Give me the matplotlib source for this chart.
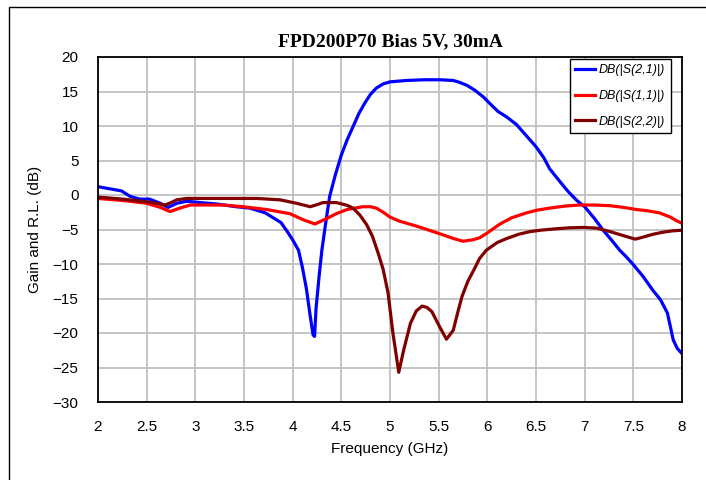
import matplotlib
matplotlib.use("Agg")
import matplotlib.pyplot as plt
from matplotlib.patches import Rectangle

# S21 gain (blue)
s21_freq = [2.0, 2.12, 2.24, 2.33, 2.43, 2.53, 2.64, 2.72, 2.81, 2.91, 3.05, 3.22, 3.42, 3.56,
            3.63, 3.72, 3.80, 3.88, 3.94, 4.0, 4.06, 4.1, 4.14, 4.18, 4.21, 4.225, 4.24, 4.27,
            4.30, 4.34, 4.38, 4.44, 4.50, 4.56, 4.62, 4.68, 4.74, 4.80, 4.86, 4.93, 5.0, 5.17,
            5.35, 5.51, 5.65, 5.72, 5.79, 5.87, 5.96, 6.03, 6.11, 6.2, 6.3, 6.4, 6.5, 6.58,
            6.64, 6.72, 6.8, 6.85, 6.92, 7.0, 7.1, 7.19, 7.28, 7.36, 7.43, 7.5, 7.6, 7.7,
            7.78, 7.85, 7.91, 7.95, 8.0]
s21_db = [1.2, 0.9, 0.6, -0.2, -0.6, -0.6, -1.2, -1.8, -1.2, -0.9, -1.1, -1.3, -1.7, -1.9,
          -2.2, -2.6, -3.3, -4.0, -5.2, -6.5, -8.0, -10.5, -13.5, -17.5, -20.3, -20.5, -16.5, -12.0,
          -8.0, -4.0, -0.2, 3.0, 5.8, 8.0, 9.9, 11.8, 13.3, 14.6, 15.5, 16.1, 16.4, 16.6,
          16.7, 16.7, 16.6, 16.3, 15.9, 15.2, 14.2, 13.2, 12.1, 11.3, 10.2, 8.6, 7.0, 5.4,
          3.8, 2.4, 1.0, 0.2, -0.8, -1.7, -3.4, -5.1, -6.6, -8.0, -9.0, -10.1, -11.8, -13.8,
          -15.2, -17.1, -21.0, -22.2, -23.0]

# S11 input return loss (red)
s11_freq = [2.0, 2.26, 2.5, 2.64, 2.74, 2.84, 2.95, 3.29, 3.49, 3.73, 3.97, 4.11, 4.23, 4.35,
            4.45, 4.56, 4.72, 4.8, 4.86, 4.93, 5.0, 5.1, 5.27, 5.4, 5.55, 5.65, 5.75, 5.85,
            5.92, 6.0, 6.13, 6.25, 6.4, 6.51, 6.64, 6.8, 6.95, 7.1, 7.26, 7.4, 7.53, 7.65,
            7.77, 7.88, 7.94, 8.0]
s11_db = [-0.5, -0.8, -1.2, -1.8, -2.4, -1.9, -1.45, -1.45, -1.7, -2.1, -2.7, -3.6, -4.2, -3.4,
          -2.7, -2.1, -1.7, -1.7, -1.9, -2.5, -3.2, -3.8, -4.5, -5.1, -5.8, -6.3, -6.7, -6.5,
          -6.2, -5.5, -4.2, -3.3, -2.6, -2.2, -1.9, -1.6, -1.45, -1.45, -1.55, -1.8, -2.1, -2.3,
          -2.6, -3.2, -3.7, -4.1]

# S22 output return loss (dark red)
s22_freq = [2.0, 2.26, 2.5, 2.6, 2.69, 2.75, 2.81, 2.91, 3.3, 3.63, 3.87, 4.04, 4.18, 4.25,
            4.31, 4.45, 4.56, 4.62, 4.69, 4.76, 4.82, 4.88, 4.93, 4.98, 5.03, 5.09, 5.14, 5.21,
            5.27, 5.33, 5.38, 5.43, 5.51, 5.58, 5.65, 5.7, 5.74, 5.8, 5.86, 5.92, 5.99, 6.1,
            6.2, 6.32, 6.44, 6.55, 6.7, 6.85, 6.99, 7.12, 7.26, 7.4, 7.52, 7.6, 7.7, 7.8,
            7.9, 8.0]
s22_db = [-0.3, -0.6, -1.0, -1.2, -1.45, -1.1, -0.7, -0.5, -0.5, -0.5, -0.7, -1.2, -1.7, -1.4,
          -1.1, -1.1, -1.5, -1.9, -2.9, -4.3, -6.0, -8.5, -10.8, -14.2, -20.0, -25.7, -22.5, -18.6,
          -16.8, -16.1, -16.3, -16.9, -19.1, -20.9, -19.6, -16.8, -14.7, -12.5, -10.9, -9.2, -8.0, -6.9,
          -6.3, -5.7, -5.3, -5.1, -4.9, -4.75, -4.7, -4.8, -5.3, -5.9, -6.4, -6.1, -5.7, -5.4,
          -5.2, -5.1]

x_ticks = [2, 2.5, 3, 3.5, 4, 4.5, 5, 5.5, 6, 6.5, 7, 7.5, 8]
x_tick_labels = ["2", "2.5", "3", "3.5", "4", "4.5", "5", "5.5", "6", "6.5", "7", "7.5", "8"]
y_ticks = [20, 15, 10, 5, 0, -5, -10, -15, -20, -25, -30]

plt.rcParams['font.family'] = ['Liberation Sans', 'DejaVu Sans']

fig = plt.figure(figsize=(7.06, 4.8), dpi=100)
# outer frame of the picture
fig.patches.append(Rectangle((9 / 706, -0.1), 1.2, 1.1 - 7 / 480, transform=fig.transFigure,
                             fill=False, edgecolor='black', linewidth=1.0))
ax = fig.add_axes([98 / 706, 1 - 402 / 480, (682 - 98) / 706, (402 - 57) / 480])

ax.plot(s21_freq, s21_db, color='#0000ff', linewidth=2.3, label='DB(|S(2,1)|)')
ax.plot(s11_freq, s11_db, color='#ff0000', linewidth=2.3, label='DB(|S(1,1)|)')
ax.plot(s22_freq, s22_db, color='#800000', linewidth=2.3, label='DB(|S(2,2)|)')

ax.set_xlim(2, 8)
ax.set_ylim(-30, 20)
ax.set_xticks(x_ticks, labels=x_tick_labels)
ax.set_yticks(y_ticks)
ax.tick_params(axis='both', length=0, labelsize=11)
ax.tick_params(axis='y', pad=14)
ax.tick_params(axis='x', pad=13)
ax.grid(color='#c0c0c0', linewidth=1.3)
ax.set_axisbelow(True)
for sp in ax.spines.values():
    sp.set_linewidth(1.3)
    sp.set_color('black')

ax.set_xlabel('Frequency (GHz)', fontsize=11, labelpad=6)
ax.set_ylabel('Gain and R.L. (dB)', fontsize=11, labelpad=8)
ax.set_title('FPD200P70 Bias 5V, 30mA', fontsize=14, fontweight='bold',
             family='Liberation Serif', pad=8)

leg = ax.legend(loc='upper right', bbox_to_anchor=(0.981, 0.995), fancybox=False,
                framealpha=1, edgecolor='black', prop={'style': 'italic', 'size': 9.0},
                handlelength=1.6, labelspacing=1.1, borderpad=0.45, handletextpad=0.3,
                borderaxespad=0)
leg.get_frame().set_linewidth(1.0)

fig.savefig('out.png', dpi=100)
